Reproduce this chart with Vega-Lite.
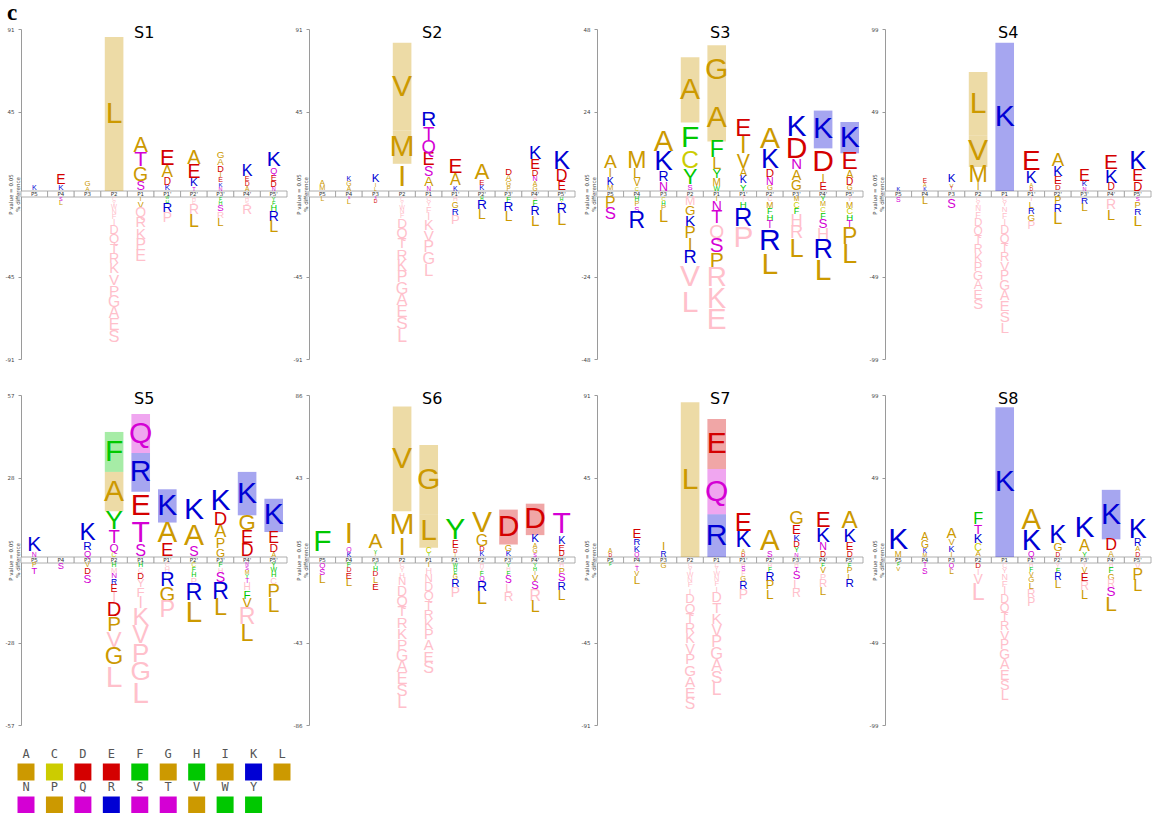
{
"$schema":"https://vega.github.io/schema/vega-lite/v6.json",
"padding":{"left":5,"top":2,"right":0,"bottom":0},
"title":{"text":"c","anchor":"start","font":"Liberation Serif","fontSize":23,"fontWeight":"bold","color":"#000","offset":0,"dx":2,"frame":"bounds"},
"config":{
 "view":{"stroke":null},
 "title":{"font":"DejaVu Sans","fontSize":16,"fontWeight":"normal","color":"#000","anchor":"middle","frame":"bounds","offset":-14,"dx":-2},
 "axisY":{"grid":false,"domainColor":"#9a9a9a","tickColor":"#9a9a9a","tickSize":3,"labelFontSize":5.5,"labelColor":"#444","labelFont":"DejaVu Sans","titleFont":"DejaVu Sans","titleFontSize":5.5,"titleFontWeight":"normal","titleColor":"#444","titleX":-8,"labelPadding":4,"labelExpr":"(datum.value<0?'-':'')+floor(abs(datum.value))"}
},
"datasets":{
"pos":[{"p":"P5"},{"p":"P4"},{"p":"P3"},{"p":"P2"},{"p":"P1"},{"p":"P1'"},{"p":"P2'"},{"p":"P3'"},{"p":"P4'"},{"p":"P5'"}],
"aa":[{"a":"A","r":1},{"a":"C","r":1},{"a":"D","r":1},{"a":"E","r":1},{"a":"F","r":1},{"a":"G","r":1},{"a":"H","r":1},{"a":"I","r":1},{"a":"K","r":1},{"a":"L","r":1},{"a":"N","r":2},{"a":"P","r":2},{"a":"Q","r":2},{"a":"R","r":2},{"a":"S","r":2},{"a":"T","r":2},{"a":"V","r":2},{"a":"W","r":2},{"a":"Y","r":2}],
"logo":[
{"s":"S1","p":"P5","a":"K","v":2.8},
{"s":"S1","p":"P4","a":"K","v":3.1},{"s":"S1","p":"P4","a":"E","v":5.5},
{"s":"S1","p":"P3","a":"A","v":2.4},{"s":"S1","p":"P3","a":"G","v":3.1},
{"s":"S1","p":"P2","a":"L","v":85},
{"s":"S1","p":"P1","a":"S","v":5},{"s":"S1","p":"P1","a":"G","v":7.7},{"s":"S1","p":"P1","a":"T","v":8.3},{"s":"S1","p":"P1","a":"A","v":8.6},
{"s":"S1","p":"P1'","a":"K","v":3.1},{"s":"S1","p":"P1'","a":"D","v":4},{"s":"S1","p":"P1'","a":"A","v":6.8},{"s":"S1","p":"P1'","a":"E","v":8.6},
{"s":"S1","p":"P2'","a":"T","v":2.2},{"s":"S1","p":"P2'","a":"K","v":4.6},{"s":"S1","p":"P2'","a":"E","v":7.7},{"s":"S1","p":"P2'","a":"A","v":7.9},
{"s":"S1","p":"P3'","a":"N","v":2.2},{"s":"S1","p":"P3'","a":"K","v":2.4},{"s":"S1","p":"P3'","a":"E","v":2.8},{"s":"S1","p":"P3'","a":"I","v":2.9},{"s":"S1","p":"P3'","a":"D","v":3.6},{"s":"S1","p":"P3'","a":"A","v":3.8},{"s":"S1","p":"P3'","a":"G","v":3.9},
{"s":"S1","p":"P4'","a":"A","v":2.6},{"s":"S1","p":"P4'","a":"D","v":2.7},{"s":"S1","p":"P4'","a":"E","v":2.8},{"s":"S1","p":"P4'","a":"K","v":6.4},
{"s":"S1","p":"P5'","a":"N","v":2.2},{"s":"S1","p":"P5'","a":"D","v":3.4},{"s":"S1","p":"P5'","a":"E","v":3.5},{"s":"S1","p":"P5'","a":"Q","v":3.6},{"s":"S1","p":"P5'","a":"K","v":8.3},
{"s":"S1","p":"P4","a":"S","v":-2},{"s":"S1","p":"P4","a":"L","v":-2.8},
{"s":"S1","p":"P2","a":"C","v":-2,"z":1},{"s":"S1","p":"P2","a":"Y","v":-2.2,"z":1},{"s":"S1","p":"P2","a":"W","v":-2.5,"z":1},{"s":"S1","p":"P2","a":"N","v":-2.7,"z":1},{"s":"S1","p":"P2","a":"F","v":-3,"z":1},{"s":"S1","p":"P2","a":"I","v":-3.3,"z":1},{"s":"S1","p":"P2","a":"D","v":-5,"z":1},{"s":"S1","p":"P2","a":"Q","v":-5.2,"z":1},{"s":"S1","p":"P2","a":"T","v":-5.4,"z":1},{"s":"S1","p":"P2","a":"R","v":-5.6,"z":1},{"s":"S1","p":"P2","a":"K","v":-5.8,"z":1},{"s":"S1","p":"P2","a":"V","v":-6,"z":1},{"s":"S1","p":"P2","a":"P","v":-6.1,"z":1},{"s":"S1","p":"P2","a":"G","v":-6.2,"z":1},{"s":"S1","p":"P2","a":"A","v":-6.3,"z":1},{"s":"S1","p":"P2","a":"E","v":-6.4,"z":1},{"s":"S1","p":"P2","a":"S","v":-6.5,"z":1},
{"s":"S1","p":"P1","a":"I","v":-2.4},{"s":"S1","p":"P1","a":"V","v":-3.5},{"s":"S1","p":"P1","a":"Q","v":-5.5,"z":1},{"s":"S1","p":"P1","a":"R","v":-5.8,"z":1},{"s":"S1","p":"P1","a":"K","v":-6,"z":1},{"s":"S1","p":"P1","a":"P","v":-6.2,"z":1},{"s":"S1","p":"P1","a":"E","v":-6.4,"z":1},
{"s":"S1","p":"P1'","a":"W","v":-1.5},{"s":"S1","p":"P1'","a":"H","v":-2},{"s":"S1","p":"P1'","a":"R","v":-5.3},{"s":"S1","p":"P1'","a":"P","v":-5.5,"z":1},
{"s":"S1","p":"P2'","a":"H","v":-2.2,"z":1},{"s":"S1","p":"P2'","a":"F","v":-2.4,"z":1},{"s":"S1","p":"P2'","a":"R","v":-5.5,"z":1},{"s":"S1","p":"P2'","a":"L","v":-7},
{"s":"S1","p":"P3'","a":"F","v":-2},{"s":"S1","p":"P3'","a":"H","v":-2.2},{"s":"S1","p":"P3'","a":"S","v":-3.8},{"s":"S1","p":"P3'","a":"R","v":-3.9,"z":1},{"s":"S1","p":"P3'","a":"L","v":-4.5},
{"s":"S1","p":"P4'","a":"H","v":-2.2,"z":1},{"s":"S1","p":"P4'","a":"S","v":-2.4,"z":1},{"s":"S1","p":"P4'","a":"R","v":-5.4,"z":1},
{"s":"S1","p":"P5'","a":"Y","v":-2.2},{"s":"S1","p":"P5'","a":"F","v":-2.3},{"s":"S1","p":"P5'","a":"H","v":-3.6},{"s":"S1","p":"P5'","a":"R","v":-5.5},{"s":"S1","p":"P5'","a":"L","v":-6.4},
{"s":"S2","p":"P5","a":"M","v":2.9},{"s":"S2","p":"P5","a":"A","v":3},
{"s":"S2","p":"P4","a":"A","v":2.6},{"s":"S2","p":"P4","a":"G","v":2.7},{"s":"S2","p":"P4","a":"K","v":2.8},
{"s":"S2","p":"P3","a":"L","v":2},{"s":"S2","p":"P3","a":"I","v":2.2},{"s":"S2","p":"P3","a":"K","v":4.6},
{"s":"S2","p":"P2","a":"I","v":15},{"s":"S2","p":"P2","a":"M","v":18.3},{"s":"S2","p":"P2","a":"V","v":48.4},
{"s":"S2","p":"P1","a":"N","v":2.5},{"s":"S2","p":"P1","a":"A","v":5.4},{"s":"S2","p":"P1","a":"S","v":5.5},{"s":"S2","p":"P1","a":"E","v":7.2},{"s":"S2","p":"P1","a":"Q","v":7.3},{"s":"S2","p":"P1","a":"T","v":7.4},{"s":"S2","p":"P1","a":"R","v":8.2},
{"s":"S2","p":"P1'","a":"K","v":2.7},{"s":"S2","p":"P1'","a":"A","v":6.4},{"s":"S2","p":"P1'","a":"E","v":8.2},
{"s":"S2","p":"P2'","a":"K","v":3},{"s":"S2","p":"P2'","a":"E","v":3.1},{"s":"S2","p":"P2'","a":"A","v":8.8},
{"s":"S2","p":"P3'","a":"P","v":2.5},{"s":"S2","p":"P3'","a":"G","v":2.6},{"s":"S2","p":"P3'","a":"A","v":3.6},{"s":"S2","p":"P3'","a":"D","v":3.7},
{"s":"S2","p":"P4'","a":"G","v":2.6},{"s":"S2","p":"P4'","a":"A","v":2.7},{"s":"S2","p":"P4'","a":"N","v":2.8},{"s":"S2","p":"P4'","a":"D","v":3.6},{"s":"S2","p":"P4'","a":"E","v":5.8},{"s":"S2","p":"P4'","a":"K","v":7.3},
{"s":"S2","p":"P5'","a":"E","v":5},{"s":"S2","p":"P5'","a":"D","v":6.4},{"s":"S2","p":"P5'","a":"K","v":10},
{"s":"S2","p":"P5","a":"L","v":-2.7},
{"s":"S2","p":"P4","a":"S","v":-1.5},{"s":"S2","p":"P4","a":"L","v":-3},
{"s":"S2","p":"P3","a":"S","v":-1.3},{"s":"S2","p":"P3","a":"D","v":-2},
{"s":"S2","p":"P2","a":"C","v":-2,"z":1},{"s":"S2","p":"P2","a":"Y","v":-2.2,"z":1},{"s":"S2","p":"P2","a":"W","v":-2.4,"z":1},{"s":"S2","p":"P2","a":"N","v":-2.6,"z":1},{"s":"S2","p":"P2","a":"F","v":-2.8,"z":1},{"s":"S2","p":"P2","a":"D","v":-5.4,"z":1},{"s":"S2","p":"P2","a":"Q","v":-5.6,"z":1},{"s":"S2","p":"P2","a":"T","v":-5.8,"z":1},{"s":"S2","p":"P2","a":"R","v":-6,"z":1},{"s":"S2","p":"P2","a":"K","v":-6.2,"z":1},{"s":"S2","p":"P2","a":"P","v":-6.3,"z":1},{"s":"S2","p":"P2","a":"G","v":-6.4,"z":1},{"s":"S2","p":"P2","a":"A","v":-6.5,"z":1},{"s":"S2","p":"P2","a":"E","v":-6.6,"z":1},{"s":"S2","p":"P2","a":"S","v":-6.8,"z":1},{"s":"S2","p":"P2","a":"L","v":-7,"z":1},
{"s":"S2","p":"P1","a":"C","v":-2.5,"z":1},{"s":"S2","p":"P1","a":"Y","v":-3,"z":1},{"s":"S2","p":"P1","a":"F","v":-3.5,"z":1},{"s":"S2","p":"P1","a":"I","v":-4,"z":1},{"s":"S2","p":"P1","a":"K","v":-5.7,"z":1},{"s":"S2","p":"P1","a":"V","v":-6,"z":1},{"s":"S2","p":"P1","a":"P","v":-6.2,"z":1},{"s":"S2","p":"P1","a":"G","v":-6.4,"z":1},{"s":"S2","p":"P1","a":"L","v":-6.6,"z":1},
{"s":"S2","p":"P1'","a":"H","v":-2.6,"z":1},{"s":"S2","p":"P1'","a":"G","v":-3.5},{"s":"S2","p":"P1'","a":"R","v":-3.8},{"s":"S2","p":"P1'","a":"P","v":-5.2,"z":1},
{"s":"S2","p":"P2'","a":"H","v":-1.8},{"s":"S2","p":"P2'","a":"R","v":-5.4},{"s":"S2","p":"P2'","a":"L","v":-5.5},
{"s":"S2","p":"P3'","a":"F","v":-3},{"s":"S2","p":"P3'","a":"R","v":-5.4},{"s":"S2","p":"P3'","a":"L","v":-5.5},
{"s":"S2","p":"P4'","a":"H","v":-1.8,"z":1},{"s":"S2","p":"P4'","a":"F","v":-3.3},{"s":"S2","p":"P4'","a":"R","v":-5},{"s":"S2","p":"P4'","a":"L","v":-6},
{"s":"S2","p":"P5'","a":"H","v":-2},{"s":"S2","p":"P5'","a":"I","v":-2.1},{"s":"S2","p":"P5'","a":"R","v":-5.5},{"s":"S2","p":"P5'","a":"L","v":-6.4},
{"s":"S3","p":"P5","a":"M","v":1.6},{"s":"S3","p":"P5","a":"K","v":2.2},{"s":"S3","p":"P5","a":"I","v":2.6},{"s":"S3","p":"P5","a":"A","v":4},
{"s":"S3","p":"P4","a":"C","v":1.2},{"s":"S3","p":"P4","a":"V","v":2.2},{"s":"S3","p":"P4","a":"L","v":2.9},{"s":"S3","p":"P4","a":"M","v":4.8},
{"s":"S3","p":"P3","a":"N","v":2.6},{"s":"S3","p":"P3","a":"R","v":2.9},{"s":"S3","p":"P3","a":"K","v":5.8},{"s":"S3","p":"P3","a":"A","v":6.1},
{"s":"S3","p":"P2","a":"S","v":1.6},{"s":"S3","p":"P2","a":"Y","v":4.5},{"s":"S3","p":"P2","a":"C","v":5.1},{"s":"S3","p":"P2","a":"F","v":8.7},{"s":"S3","p":"P2","a":"A","v":19},
{"s":"S3","p":"P1","a":"W","v":1.4},{"s":"S3","p":"P1","a":"M","v":2.1},{"s":"S3","p":"P1","a":"Y","v":2.7},{"s":"S3","p":"P1","a":"L","v":3.4},{"s":"S3","p":"P1","a":"F","v":4.8},{"s":"S3","p":"P1","a":"A","v":13.8},{"s":"S3","p":"P1","a":"G","v":14.2},
{"s":"S3","p":"P1'","a":"Y","v":2},{"s":"S3","p":"P1'","a":"K","v":2.2},{"s":"S3","p":"P1'","a":"A","v":2.3},{"s":"S3","p":"P1'","a":"V","v":4.1},{"s":"S3","p":"P1'","a":"I","v":4.9},{"s":"S3","p":"P1'","a":"E","v":5},
{"s":"S3","p":"P2'","a":"G","v":1.6},{"s":"S3","p":"P2'","a":"N","v":2.2},{"s":"S3","p":"P2'","a":"D","v":2.4},{"s":"S3","p":"P2'","a":"K","v":5.6},{"s":"S3","p":"P2'","a":"A","v":6.5},
{"s":"S3","p":"P3'","a":"G","v":2.9},{"s":"S3","p":"P3'","a":"A","v":3},{"s":"S3","p":"P3'","a":"N","v":3.1},{"s":"S3","p":"P3'","a":"D","v":6.3},{"s":"S3","p":"P3'","a":"K","v":6.4},
{"s":"S3","p":"P4'","a":"E","v":2.3},{"s":"S3","p":"P4'","a":"I","v":2.4},{"s":"S3","p":"P4'","a":"D","v":7.7},{"s":"S3","p":"P4'","a":"K","v":11},
{"s":"S3","p":"P5'","a":"G","v":1.6},{"s":"S3","p":"P5'","a":"D","v":2.1},{"s":"S3","p":"P5'","a":"A","v":2.2},{"s":"S3","p":"P5'","a":"E","v":5.1},{"s":"S3","p":"P5'","a":"K","v":9.1},
{"s":"S3","p":"P5","a":"P","v":-3.3},{"s":"S3","p":"P5","a":"S","v":-3.5},
{"s":"S3","p":"P4","a":"H","v":-1.4},{"s":"S3","p":"P4","a":"P","v":-1.5},{"s":"S3","p":"P4","a":"S","v":-1.6},{"s":"S3","p":"P4","a":"R","v":-4.8},
{"s":"S3","p":"P3","a":"C","v":-1.2},{"s":"S3","p":"P3","a":"H","v":-1.3},{"s":"S3","p":"P3","a":"P","v":-1.6},{"s":"S3","p":"P3","a":"L","v":-3.4},
{"s":"S3","p":"P2","a":"M","v":-2.6,"z":1},{"s":"S3","p":"P2","a":"G","v":-2.8},{"s":"S3","p":"P2","a":"K","v":-3.2},{"s":"S3","p":"P2","a":"P","v":-3.5},{"s":"S3","p":"P2","a":"I","v":-3.6},{"s":"S3","p":"P2","a":"R","v":-3.8},{"s":"S3","p":"P2","a":"V","v":-7.4,"z":1},{"s":"S3","p":"P2","a":"L","v":-7.6,"z":1},
{"s":"S3","p":"P1","a":"I","v":-1.4},{"s":"S3","p":"P1","a":"N","v":-2.9},{"s":"S3","p":"P1","a":"T","v":-3.8},{"s":"S3","p":"P1","a":"Q","v":-4,"z":1},{"s":"S3","p":"P1","a":"S","v":-4.3},{"s":"S3","p":"P1","a":"P","v":-4.4},{"s":"S3","p":"P1","a":"R","v":-5.8,"z":1},{"s":"S3","p":"P1","a":"K","v":-6,"z":1},{"s":"S3","p":"P1","a":"E","v":-6.2,"z":1},
{"s":"S3","p":"P1'","a":"T","v":-1.4,"z":1},{"s":"S3","p":"P1'","a":"H","v":-2},{"s":"S3","p":"P1'","a":"R","v":-5.3},{"s":"S3","p":"P1'","a":"P","v":-6.2,"z":1},
{"s":"S3","p":"P2'","a":"C","v":-1.4,"z":1},{"s":"S3","p":"P2'","a":"M","v":-1.8},{"s":"S3","p":"P2'","a":"F","v":-1.9},{"s":"S3","p":"P2'","a":"H","v":-2},{"s":"S3","p":"P2'","a":"T","v":-2.1},{"s":"S3","p":"P2'","a":"R","v":-7},{"s":"S3","p":"P2'","a":"L","v":-7.2},
{"s":"S3","p":"P3'","a":"M","v":-1.4},{"s":"S3","p":"P3'","a":"C","v":-1.8},{"s":"S3","p":"P3'","a":"F","v":-1.9},{"s":"S3","p":"P3'","a":"H","v":-3.5,"z":1},{"s":"S3","p":"P3'","a":"R","v":-3.8,"z":1},{"s":"S3","p":"P3'","a":"L","v":-5.3},
{"s":"S3","p":"P4'","a":"Y","v":-1.4},{"s":"S3","p":"P4'","a":"M","v":-1.5},{"s":"S3","p":"P4'","a":"C","v":-1.6},{"s":"S3","p":"P4'","a":"F","v":-1.9},{"s":"S3","p":"P4'","a":"S","v":-2.8},{"s":"S3","p":"P4'","a":"H","v":-3.5,"z":1},{"s":"S3","p":"P4'","a":"R","v":-5.6},{"s":"S3","p":"P4'","a":"L","v":-6.6},
{"s":"S3","p":"P5'","a":"Y","v":-1.4,"z":1},{"s":"S3","p":"P5'","a":"M","v":-1.8},{"s":"S3","p":"P5'","a":"C","v":-1.9},{"s":"S3","p":"P5'","a":"H","v":-2},{"s":"S3","p":"P5'","a":"T","v":-2.1},{"s":"S3","p":"P5'","a":"P","v":-4.8},{"s":"S3","p":"P5'","a":"L","v":-5.6},
{"s":"S4","p":"P5","a":"K","v":2.4},
{"s":"S4","p":"P4","a":"K","v":2.2},{"s":"S4","p":"P4","a":"A","v":2.3},{"s":"S4","p":"P4","a":"E","v":2.8},
{"s":"S4","p":"P3","a":"T","v":2},{"s":"S4","p":"P3","a":"V","v":2.6},{"s":"S4","p":"P3","a":"K","v":5},
{"s":"S4","p":"P2","a":"I","v":4.4},{"s":"S4","p":"P2","a":"M","v":10},{"s":"S4","p":"P2","a":"V","v":19},{"s":"S4","p":"P2","a":"L","v":38},
{"s":"S4","p":"P1","a":"K","v":89},
{"s":"S4","p":"P1'","a":"D","v":2.2},{"s":"S4","p":"P1'","a":"A","v":2.4},{"s":"S4","p":"P1'","a":"K","v":7},{"s":"S4","p":"P1'","a":"E","v":12},
{"s":"S4","p":"P2'","a":"D","v":3.4},{"s":"S4","p":"P2'","a":"E","v":5},{"s":"S4","p":"P2'","a":"K","v":6},{"s":"S4","p":"P2'","a":"A","v":8},
{"s":"S4","p":"P3'","a":"N","v":2.4},{"s":"S4","p":"P3'","a":"K","v":3.4},{"s":"S4","p":"P3'","a":"E","v":7},
{"s":"S4","p":"P4'","a":"D","v":4.4},{"s":"S4","p":"P4'","a":"K","v":8},{"s":"S4","p":"P4'","a":"E","v":9},
{"s":"S4","p":"P5'","a":"D","v":5.4},{"s":"S4","p":"P5'","a":"E","v":7},{"s":"S4","p":"P5'","a":"K","v":11},
{"s":"S4","p":"P5","a":"S","v":-3},
{"s":"S4","p":"P4","a":"L","v":-4.6},
{"s":"S4","p":"P3","a":"D","v":-1.2,"z":1},{"s":"S4","p":"P3","a":"S","v":-5.5},
{"s":"S4","p":"P2","a":"C","v":-2.5,"z":1},{"s":"S4","p":"P2","a":"Y","v":-3,"z":1},{"s":"S4","p":"P2","a":"N","v":-3.5,"z":1},{"s":"S4","p":"P2","a":"F","v":-4,"z":1},{"s":"S4","p":"P2","a":"D","v":-5,"z":1},{"s":"S4","p":"P2","a":"Q","v":-5.1,"z":1},{"s":"S4","p":"P2","a":"T","v":-5.2,"z":1},{"s":"S4","p":"P2","a":"R","v":-5.3,"z":1},{"s":"S4","p":"P2","a":"K","v":-5.4,"z":1},{"s":"S4","p":"P2","a":"P","v":-5.5,"z":1},{"s":"S4","p":"P2","a":"G","v":-5.6,"z":1},{"s":"S4","p":"P2","a":"A","v":-5.7,"z":1},{"s":"S4","p":"P2","a":"E","v":-5.8,"z":1},{"s":"S4","p":"P2","a":"S","v":-6.4,"z":1},
{"s":"S4","p":"P1","a":"C","v":-2.8,"z":1},{"s":"S4","p":"P1","a":"Y","v":-3.1,"z":1},{"s":"S4","p":"P1","a":"N","v":-3.4,"z":1},{"s":"S4","p":"P1","a":"F","v":-3.7,"z":1},{"s":"S4","p":"P1","a":"I","v":-4,"z":1},{"s":"S4","p":"P1","a":"D","v":-5.3,"z":1},{"s":"S4","p":"P1","a":"Q","v":-5.4,"z":1},{"s":"S4","p":"P1","a":"T","v":-5.5,"z":1},{"s":"S4","p":"P1","a":"R","v":-5.6,"z":1},{"s":"S4","p":"P1","a":"V","v":-5.8,"z":1},{"s":"S4","p":"P1","a":"P","v":-5.9,"z":1},{"s":"S4","p":"P1","a":"G","v":-6,"z":1},{"s":"S4","p":"P1","a":"A","v":-6.1,"z":1},{"s":"S4","p":"P1","a":"E","v":-6.3,"z":1},{"s":"S4","p":"P1","a":"S","v":-6.5,"z":1},{"s":"S4","p":"P1","a":"L","v":-6.6,"z":1},
{"s":"S4","p":"P1'","a":"I","v":-2.8,"z":1},{"s":"S4","p":"P1'","a":"L","v":-3.8},{"s":"S4","p":"P1'","a":"R","v":-4},{"s":"S4","p":"P1'","a":"G","v":-4.2},{"s":"S4","p":"P1'","a":"P","v":-5,"z":1},
{"s":"S4","p":"P2'","a":"P","v":-4.6},{"s":"S4","p":"P2'","a":"R","v":-4.8},{"s":"S4","p":"P2'","a":"L","v":-7},
{"s":"S4","p":"P3'","a":"R","v":-4.2},{"s":"S4","p":"P3'","a":"L","v":-5},
{"s":"S4","p":"P4'","a":"Y","v":-2,"z":1},{"s":"S4","p":"P4'","a":"R","v":-6,"z":1},{"s":"S4","p":"P4'","a":"L","v":-6.2},
{"s":"S4","p":"P5'","a":"S","v":-2.6},{"s":"S4","p":"P5'","a":"P","v":-4},{"s":"S4","p":"P5'","a":"R","v":-4.2},{"s":"S4","p":"P5'","a":"L","v":-6.6},
{"s":"S5","p":"P5","a":"N","v":1.7},{"s":"S5","p":"P5","a":"K","v":5.2},
{"s":"S5","p":"P3","a":"Q","v":2.3},{"s":"S5","p":"P3","a":"R","v":2.9},{"s":"S5","p":"P3","a":"K","v":6},
{"s":"S5","p":"P2","a":"C","v":1.7},{"s":"S5","p":"P2","a":"Q","v":2.9},{"s":"S5","p":"P2","a":"T","v":4.6},{"s":"S5","p":"P2","a":"Y","v":6.6},{"s":"S5","p":"P2","a":"A","v":13.6},{"s":"S5","p":"P2","a":"F","v":13.8},
{"s":"S5","p":"P1","a":"S","v":4},{"s":"S5","p":"P1","a":"T","v":8.7},{"s":"S5","p":"P1","a":"E","v":9.8},{"s":"S5","p":"P1","a":"R","v":13.4},{"s":"S5","p":"P1","a":"Q","v":13.5},
{"s":"S5","p":"P1'","a":"E","v":4.6},{"s":"S5","p":"P1'","a":"A","v":7.3},{"s":"S5","p":"P1'","a":"K","v":11.5},
{"s":"S5","p":"P2'","a":"S","v":3.5},{"s":"S5","p":"P2'","a":"A","v":7.7},{"s":"S5","p":"P2'","a":"K","v":10.4},
{"s":"S5","p":"P3'","a":"G","v":2.9},{"s":"S5","p":"P3'","a":"P","v":3.5},{"s":"S5","p":"P3'","a":"A","v":4.4},{"s":"S5","p":"P3'","a":"D","v":4.6},{"s":"S5","p":"P3'","a":"K","v":8.1},
{"s":"S5","p":"P4'","a":"D","v":4.4},{"s":"S5","p":"P4'","a":"E","v":4.5},{"s":"S5","p":"P4'","a":"G","v":5.5},{"s":"S5","p":"P4'","a":"K","v":15},
{"s":"S5","p":"P5'","a":"A","v":1.7},{"s":"S5","p":"P5'","a":"D","v":2.9},{"s":"S5","p":"P5'","a":"E","v":4},{"s":"S5","p":"P5'","a":"K","v":11.5},
{"s":"S5","p":"P5","a":"P","v":-1.7},{"s":"S5","p":"P5","a":"T","v":-2.3},
{"s":"S5","p":"P4","a":"S","v":-2.3},
{"s":"S5","p":"P3","a":"V","v":-1.7},{"s":"S5","p":"P3","a":"D","v":-2.3},{"s":"S5","p":"P3","a":"S","v":-2.9},
{"s":"S5","p":"P2","a":"H","v":-1.7},{"s":"S5","p":"P2","a":"M","v":-1.9,"z":1},{"s":"S5","p":"P2","a":"N","v":-2},{"s":"S5","p":"P2","a":"R","v":-2.1},{"s":"S5","p":"P2","a":"E","v":-2.6},{"s":"S5","p":"P2","a":"I","v":-3.4,"z":1},{"s":"S5","p":"P2","a":"D","v":-5},{"s":"S5","p":"P2","a":"P","v":-5.1},{"s":"S5","p":"P2","a":"V","v":-5.6,"z":1},{"s":"S5","p":"P2","a":"G","v":-5.9},{"s":"S5","p":"P2","a":"L","v":-9,"z":1},
{"s":"S5","p":"P1","a":"H","v":-1.7},{"s":"S5","p":"P1","a":"C","v":-1.8,"z":1},{"s":"S5","p":"P1","a":"D","v":-2.3},{"s":"S5","p":"P1","a":"Y","v":-2.8,"z":1},{"s":"S5","p":"P1","a":"F","v":-3.3,"z":1},{"s":"S5","p":"P1","a":"I","v":-3.9,"z":1},{"s":"S5","p":"P1","a":"K","v":-6.1,"z":1},{"s":"S5","p":"P1","a":"V","v":-6.2,"z":1},{"s":"S5","p":"P1","a":"P","v":-6.4,"z":1},{"s":"S5","p":"P1","a":"G","v":-6.5,"z":1},{"s":"S5","p":"P1","a":"L","v":-8.4,"z":1},
{"s":"S5","p":"P1'","a":"C","v":-1.6,"z":1},{"s":"S5","p":"P1'","a":"H","v":-1.9,"z":1},{"s":"S5","p":"P1'","a":"R","v":-4.9},{"s":"S5","p":"P1'","a":"G","v":-5},{"s":"S5","p":"P1'","a":"P","v":-5.8,"z":1},
{"s":"S5","p":"P2'","a":"C","v":-1.6},{"s":"S5","p":"P2'","a":"F","v":-1.7},{"s":"S5","p":"P2'","a":"H","v":-1.8},{"s":"S5","p":"P2'","a":"P","v":-2.3,"z":1},{"s":"S5","p":"P2'","a":"R","v":-5.8},{"s":"S5","p":"P2'","a":"L","v":-8},
{"s":"S5","p":"P3'","a":"F","v":-1.7},{"s":"S5","p":"P3'","a":"H","v":-1.8,"z":1},{"s":"S5","p":"P3'","a":"S","v":-3.5},{"s":"S5","p":"P3'","a":"R","v":-5.7},{"s":"S5","p":"P3'","a":"L","v":-5.8},
{"s":"S5","p":"P4'","a":"N","v":-1.2},{"s":"S5","p":"P4'","a":"S","v":-1.3},{"s":"S5","p":"P4'","a":"M","v":-1.4},{"s":"S5","p":"P4'","a":"Y","v":-1.5},{"s":"S5","p":"P4'","a":"T","v":-1.6},{"s":"S5","p":"P4'","a":"H","v":-2.5,"z":1},{"s":"S5","p":"P4'","a":"F","v":-2.9},{"s":"S5","p":"P4'","a":"V","v":-3.4},{"s":"S5","p":"P4'","a":"R","v":-5.7,"z":1},{"s":"S5","p":"P4'","a":"L","v":-5.8},
{"s":"S5","p":"P5'","a":"Y","v":-1.6},{"s":"S5","p":"P5'","a":"W","v":-1.7},{"s":"S5","p":"P5'","a":"H","v":-1.9},{"s":"S5","p":"P5'","a":"C","v":-2.3,"z":1},{"s":"S5","p":"P5'","a":"P","v":-4.6},{"s":"S5","p":"P5'","a":"L","v":-5.2},
{"s":"S6","p":"P5","a":"F","v":15.2},
{"s":"S6","p":"P4","a":"K","v":2.5},{"s":"S6","p":"P4","a":"Q","v":2.6},{"s":"S6","p":"P4","a":"I","v":14.2},
{"s":"S6","p":"P3","a":"I","v":1.8},{"s":"S6","p":"P3","a":"Y","v":2},{"s":"S6","p":"P3","a":"A","v":7.8},
{"s":"S6","p":"P2","a":"I","v":9.2},{"s":"S6","p":"P2","a":"M","v":14.7},{"s":"S6","p":"P2","a":"V","v":54.5},
{"s":"S6","p":"P1","a":"Y","v":1.7},{"s":"S6","p":"P1","a":"C","v":3.1},{"s":"S6","p":"P1","a":"L","v":17.3},{"s":"S6","p":"P1","a":"G","v":36.3},
{"s":"S6","p":"P1'","a":"I","v":2},{"s":"S6","p":"P1'","a":"D","v":2.2},{"s":"S6","p":"P1'","a":"E","v":3.8},{"s":"S6","p":"P1'","a":"Y","v":12.1},
{"s":"S6","p":"P2'","a":"K","v":2.7},{"s":"S6","p":"P2'","a":"D","v":2.8},{"s":"S6","p":"P2'","a":"G","v":6},{"s":"S6","p":"P2'","a":"V","v":12.1},
{"s":"S6","p":"P3'","a":"K","v":3},{"s":"S6","p":"P3'","a":"G","v":3.5},{"s":"S6","p":"P3'","a":"D","v":18.2},
{"s":"S6","p":"P4'","a":"S","v":2},{"s":"S6","p":"P4'","a":"G","v":2.5},{"s":"S6","p":"P4'","a":"A","v":2.6},{"s":"S6","p":"P4'","a":"K","v":4.3},{"s":"S6","p":"P4'","a":"D","v":16.4},
{"s":"S6","p":"P5'","a":"D","v":3.1},{"s":"S6","p":"P5'","a":"E","v":3.5},{"s":"S6","p":"P5'","a":"K","v":4},{"s":"S6","p":"P5'","a":"T","v":13},
{"s":"S6","p":"P5","a":"Q","v":-3},{"s":"S6","p":"P5","a":"S","v":-3.3},{"s":"S6","p":"P5","a":"L","v":-4.4},
{"s":"S6","p":"P4","a":"F","v":-2.5},{"s":"S6","p":"P4","a":"D","v":-2.6},{"s":"S6","p":"P4","a":"E","v":-3.4},{"s":"S6","p":"P4","a":"L","v":-4.3},
{"s":"S6","p":"P3","a":"Y","v":-1.7},{"s":"S6","p":"P3","a":"H","v":-2.6},{"s":"S6","p":"P3","a":"D","v":-3},{"s":"S6","p":"P3","a":"L","v":-3.4},{"s":"S6","p":"P3","a":"E","v":-3.6},
{"s":"S6","p":"P2","a":"C","v":-2.4,"z":1},{"s":"S6","p":"P2","a":"Y","v":-2.7,"z":1},{"s":"S6","p":"P2","a":"H","v":-2.9,"z":1},{"s":"S6","p":"P2","a":"N","v":-4.3,"z":1},{"s":"S6","p":"P2","a":"D","v":-5.2,"z":1},{"s":"S6","p":"P2","a":"Q","v":-5.4,"z":1},{"s":"S6","p":"P2","a":"T","v":-5.5,"z":1},{"s":"S6","p":"P2","a":"R","v":-5.6,"z":1},{"s":"S6","p":"P2","a":"K","v":-5.7,"z":1},{"s":"S6","p":"P2","a":"P","v":-5.8,"z":1},{"s":"S6","p":"P2","a":"G","v":-5.9,"z":1},{"s":"S6","p":"P2","a":"A","v":-6,"z":1},{"s":"S6","p":"P2","a":"E","v":-6.1,"z":1},{"s":"S6","p":"P2","a":"S","v":-6.2,"z":1},{"s":"S6","p":"P2","a":"L","v":-6.6,"z":1},
{"s":"S6","p":"P1","a":"I","v":-2.6},{"s":"S6","p":"P1","a":"H","v":-3.4,"z":1},{"s":"S6","p":"P1","a":"N","v":-4.3,"z":1},{"s":"S6","p":"P1","a":"D","v":-4.6,"z":1},{"s":"S6","p":"P1","a":"Q","v":-4.8,"z":1},{"s":"S6","p":"P1","a":"T","v":-5,"z":1},{"s":"S6","p":"P1","a":"R","v":-5.1,"z":1},{"s":"S6","p":"P1","a":"K","v":-5.2,"z":1},{"s":"S6","p":"P1","a":"P","v":-5.4,"z":1},{"s":"S6","p":"P1","a":"A","v":-5.5,"z":1},{"s":"S6","p":"P1","a":"E","v":-5.7,"z":1},{"s":"S6","p":"P1","a":"S","v":-6,"z":1},
{"s":"S6","p":"P1'","a":"W","v":-2},{"s":"S6","p":"P1'","a":"H","v":-2.1},{"s":"S6","p":"P1'","a":"F","v":-2.2},{"s":"S6","p":"P1'","a":"G","v":-2.5},{"s":"S6","p":"P1'","a":"R","v":-4.3},{"s":"S6","p":"P1'","a":"P","v":-5.2,"z":1},
{"s":"S6","p":"P2'","a":"H","v":-2.3,"z":1},{"s":"S6","p":"P2'","a":"Y","v":-2.4,"z":1},{"s":"S6","p":"P2'","a":"F","v":-2.5},{"s":"S6","p":"P2'","a":"Q","v":-2.6},{"s":"S6","p":"P2'","a":"R","v":-5.2},{"s":"S6","p":"P2'","a":"L","v":-6.9},
{"s":"S6","p":"P3'","a":"Y","v":-2.2},{"s":"S6","p":"P3'","a":"H","v":-2.3,"z":1},{"s":"S6","p":"P3'","a":"F","v":-2.4},{"s":"S6","p":"P3'","a":"S","v":-3.8},{"s":"S6","p":"P3'","a":"L","v":-4.4,"z":1},{"s":"S6","p":"P3'","a":"R","v":-5,"z":1},
{"s":"S6","p":"P4'","a":"Y","v":-2},{"s":"S6","p":"P4'","a":"H","v":-2.1},{"s":"S6","p":"P4'","a":"I","v":-2.2},{"s":"S6","p":"P4'","a":"V","v":-3.5},{"s":"S6","p":"P4'","a":"S","v":-4.2},{"s":"S6","p":"P4'","a":"R","v":-5.9,"z":1},{"s":"S6","p":"P4'","a":"L","v":-6},
{"s":"S6","p":"P5'","a":"H","v":-2.5,"z":1},{"s":"S6","p":"P5'","a":"P","v":-3.4},{"s":"S6","p":"P5'","a":"S","v":-4.2},{"s":"S6","p":"P5'","a":"R","v":-4.3},{"s":"S6","p":"P5'","a":"L","v":-5.2},
{"s":"S7","p":"P5","a":"D","v":2},{"s":"S7","p":"P5","a":"A","v":2.6},
{"s":"S7","p":"P4","a":"Q","v":2.6},{"s":"S7","p":"P4","a":"K","v":3.6},{"s":"S7","p":"P4","a":"R","v":3.7},{"s":"S7","p":"P4","a":"E","v":5.2},
{"s":"S7","p":"P3","a":"R","v":3.3},{"s":"S7","p":"P3","a":"I","v":4.6},
{"s":"S7","p":"P2","a":"L","v":85.3},
{"s":"S7","p":"P1","a":"R","v":23.6},{"s":"S7","p":"P1","a":"Q","v":24.9},{"s":"S7","p":"P1","a":"E","v":27.6},
{"s":"S7","p":"P1'","a":"D","v":2.2},{"s":"S7","p":"P1'","a":"A","v":2.4},{"s":"S7","p":"P1'","a":"K","v":9.2},{"s":"S7","p":"P1'","a":"E","v":10.1},
{"s":"S7","p":"P2'","a":"S","v":3.3},{"s":"S7","p":"P2'","a":"A","v":11.6},
{"s":"S7","p":"P3'","a":"N","v":2.4},{"s":"S7","p":"P3'","a":"Y","v":2.8},{"s":"S7","p":"P3'","a":"D","v":3.6},{"s":"S7","p":"P3'","a":"K","v":3.7},{"s":"S7","p":"P3'","a":"E","v":5.2},{"s":"S7","p":"P3'","a":"G","v":7.4},
{"s":"S7","p":"P4'","a":"D","v":3.3},{"s":"S7","p":"P4'","a":"N","v":4.2},{"s":"S7","p":"P4'","a":"K","v":8.3},{"s":"S7","p":"P4'","a":"E","v":8.8},
{"s":"S7","p":"P5'","a":"D","v":3.3},{"s":"S7","p":"P5'","a":"E","v":4.6},{"s":"S7","p":"P5'","a":"K","v":7.4},{"s":"S7","p":"P5'","a":"A","v":9.6},
{"s":"S7","p":"P5","a":"F","v":-1.8},
{"s":"S7","p":"P4","a":"F","v":-2,"z":1},{"s":"S7","p":"P4","a":"T","v":-2.6},{"s":"S7","p":"P4","a":"V","v":-3},{"s":"S7","p":"P4","a":"L","v":-4.6},
{"s":"S7","p":"P3","a":"G","v":-3.1},
{"s":"S7","p":"P2","a":"C","v":-2.4,"z":1},{"s":"S7","p":"P2","a":"Y","v":-2.6,"z":1},{"s":"S7","p":"P2","a":"W","v":-2.8,"z":1},{"s":"S7","p":"P2","a":"N","v":-3,"z":1},{"s":"S7","p":"P2","a":"F","v":-3.2,"z":1},{"s":"S7","p":"P2","a":"I","v":-3.5,"z":1},{"s":"S7","p":"P2","a":"D","v":-5.2,"z":1},{"s":"S7","p":"P2","a":"Q","v":-5.4,"z":1},{"s":"S7","p":"P2","a":"T","v":-5.5,"z":1},{"s":"S7","p":"P2","a":"R","v":-5.6,"z":1},{"s":"S7","p":"P2","a":"K","v":-5.7,"z":1},{"s":"S7","p":"P2","a":"V","v":-5.8,"z":1},{"s":"S7","p":"P2","a":"P","v":-5.9,"z":1},{"s":"S7","p":"P2","a":"G","v":-6,"z":1},{"s":"S7","p":"P2","a":"A","v":-6.1,"z":1},{"s":"S7","p":"P2","a":"E","v":-6.15,"z":1},{"s":"S7","p":"P2","a":"S","v":-6.2,"z":1},
{"s":"S7","p":"P1","a":"C","v":-2.2,"z":1},{"s":"S7","p":"P1","a":"Y","v":-2.5,"z":1},{"s":"S7","p":"P1","a":"W","v":-2.7,"z":1},{"s":"S7","p":"P1","a":"N","v":-2.9,"z":1},{"s":"S7","p":"P1","a":"F","v":-3,"z":1},{"s":"S7","p":"P1","a":"I","v":-3.3,"z":1},{"s":"S7","p":"P1","a":"D","v":-5.6,"z":1},{"s":"S7","p":"P1","a":"T","v":-5.9,"z":1},{"s":"S7","p":"P1","a":"K","v":-6.1,"z":1},{"s":"S7","p":"P1","a":"V","v":-6.3,"z":1},{"s":"S7","p":"P1","a":"P","v":-6.4,"z":1},{"s":"S7","p":"P1","a":"G","v":-6.5,"z":1},{"s":"S7","p":"P1","a":"A","v":-6.6,"z":1},{"s":"S7","p":"P1","a":"S","v":-6.7,"z":1},{"s":"S7","p":"P1","a":"L","v":-6.9,"z":1},
{"s":"S7","p":"P1'","a":"H","v":-2.3,"z":1},{"s":"S7","p":"P1'","a":"S","v":-2.5},{"s":"S7","p":"P1'","a":"F","v":-2.7,"z":1},{"s":"S7","p":"P1'","a":"G","v":-3},{"s":"S7","p":"P1'","a":"R","v":-4.5},{"s":"S7","p":"P1'","a":"P","v":-5.5,"z":1},
{"s":"S7","p":"P2'","a":"H","v":-2.4,"z":1},{"s":"S7","p":"P2'","a":"F","v":-2.6},{"s":"S7","p":"P2'","a":"R","v":-4.9},{"s":"S7","p":"P2'","a":"P","v":-5},{"s":"S7","p":"P2'","a":"L","v":-5.4},
{"s":"S7","p":"P3'","a":"H","v":-2.5,"z":1},{"s":"S7","p":"P3'","a":"T","v":-2.6},{"s":"S7","p":"P3'","a":"S","v":-4.6},{"s":"S7","p":"P3'","a":"L","v":-4.7,"z":1},{"s":"S7","p":"P3'","a":"R","v":-4.8,"z":1},
{"s":"S7","p":"P4'","a":"F","v":-2.3},{"s":"S7","p":"P4'","a":"V","v":-3.4},{"s":"S7","p":"P4'","a":"P","v":-3.6,"z":1},{"s":"S7","p":"P4'","a":"R","v":-4.5,"z":1},{"s":"S7","p":"P4'","a":"L","v":-4.6},
{"s":"S7","p":"P5'","a":"F","v":-2.4},{"s":"S7","p":"P5'","a":"P","v":-3.4},{"s":"S7","p":"P5'","a":"L","v":-3.6},{"s":"S7","p":"P5'","a":"R","v":-4.6},
{"s":"S8","p":"P5","a":"M","v":3.6},{"s":"S8","p":"P5","a":"K","v":13},
{"s":"S8","p":"P4","a":"M","v":2.4},{"s":"S8","p":"P4","a":"K","v":2.8},{"s":"S8","p":"P4","a":"G","v":4.4},{"s":"S8","p":"P4","a":"A","v":4.6},
{"s":"S8","p":"P3","a":"I","v":3},{"s":"S8","p":"P3","a":"K","v":3.9},{"s":"S8","p":"P3","a":"V","v":4},{"s":"S8","p":"P3","a":"A","v":6.4},
{"s":"S8","p":"P2","a":"A","v":3.4},{"s":"S8","p":"P2","a":"C","v":4.5},{"s":"S8","p":"P2","a":"K","v":5.6},{"s":"S8","p":"P2","a":"T","v":5.8},{"s":"S8","p":"P2","a":"F","v":7},
{"s":"S8","p":"P1","a":"K","v":89.8},
{"s":"S8","p":"P1'","a":"Q","v":3.6},{"s":"S8","p":"P1'","a":"K","v":12.4},{"s":"S8","p":"P1'","a":"A","v":12.6},
{"s":"S8","p":"P2'","a":"D","v":2.8},{"s":"S8","p":"P2'","a":"G","v":5},{"s":"S8","p":"P2'","a":"K","v":11},
{"s":"S8","p":"P3'","a":"Y","v":3},{"s":"S8","p":"P3'","a":"A","v":7},{"s":"S8","p":"P3'","a":"K","v":15},
{"s":"S8","p":"P4'","a":"A","v":3.6},{"s":"S8","p":"P4'","a":"D","v":7},{"s":"S8","p":"P4'","a":"K","v":29.7},
{"s":"S8","p":"P5'","a":"D","v":3},{"s":"S8","p":"P5'","a":"A","v":3.2},{"s":"S8","p":"P5'","a":"R","v":4.4},{"s":"S8","p":"P5'","a":"K","v":11.6},
{"s":"S8","p":"P5","a":"F","v":-2},{"s":"S8","p":"P5","a":"V","v":-2.6},
{"s":"S8","p":"P4","a":"T","v":-2.8},{"s":"S8","p":"P4","a":"S","v":-3.6},
{"s":"S8","p":"P3","a":"Q","v":-3},{"s":"S8","p":"P3","a":"L","v":-3.6},
{"s":"S8","p":"P2","a":"D","v":-3.4},{"s":"S8","p":"P2","a":"I","v":-3.8,"z":1},{"s":"S8","p":"P2","a":"V","v":-6,"z":1},{"s":"S8","p":"P2","a":"L","v":-10,"z":1},
{"s":"S8","p":"P1","a":"C","v":-3,"z":1},{"s":"S8","p":"P1","a":"Y","v":-3.4,"z":1},{"s":"S8","p":"P1","a":"N","v":-3.8,"z":1},{"s":"S8","p":"P1","a":"F","v":-4.2,"z":1},{"s":"S8","p":"P1","a":"I","v":-4.6,"z":1},{"s":"S8","p":"P1","a":"D","v":-5.2,"z":1},{"s":"S8","p":"P1","a":"Q","v":-5.4,"z":1},{"s":"S8","p":"P1","a":"T","v":-5.5,"z":1},{"s":"S8","p":"P1","a":"R","v":-5.6,"z":1},{"s":"S8","p":"P1","a":"V","v":-5.8,"z":1},{"s":"S8","p":"P1","a":"P","v":-5.9,"z":1},{"s":"S8","p":"P1","a":"G","v":-6,"z":1},{"s":"S8","p":"P1","a":"A","v":-6.1,"z":1},{"s":"S8","p":"P1","a":"E","v":-6.15,"z":1},{"s":"S8","p":"P1","a":"S","v":-6.2,"z":1},{"s":"S8","p":"P1","a":"L","v":-6.25,"z":1},
{"s":"S8","p":"P1'","a":"H","v":-2.6,"z":1},{"s":"S8","p":"P1'","a":"F","v":-2.8},{"s":"S8","p":"P1'","a":"V","v":-3},{"s":"S8","p":"P1'","a":"G","v":-3.4},{"s":"S8","p":"P1'","a":"L","v":-4},{"s":"S8","p":"P1'","a":"R","v":-5,"z":1},{"s":"S8","p":"P1'","a":"P","v":-5.2,"z":1},
{"s":"S8","p":"P2'","a":"Y","v":-3,"z":1},{"s":"S8","p":"P2'","a":"F","v":-3.2},{"s":"S8","p":"P2'","a":"R","v":-4.4},{"s":"S8","p":"P2'","a":"L","v":-5},
{"s":"S8","p":"P3'","a":"Y","v":-2.6,"z":1},{"s":"S8","p":"P3'","a":"V","v":-3.6},{"s":"S8","p":"P3'","a":"E","v":-5},{"s":"S8","p":"P3'","a":"R","v":-5.2,"z":1},{"s":"S8","p":"P3'","a":"L","v":-5.4},
{"s":"S8","p":"P4'","a":"H","v":-2.6,"z":1},{"s":"S8","p":"P4'","a":"F","v":-3.6},{"s":"S8","p":"P4'","a":"G","v":-3.8},{"s":"S8","p":"P4'","a":"R","v":-4.6,"z":1},{"s":"S8","p":"P4'","a":"S","v":-5.8},{"s":"S8","p":"P4'","a":"L","v":-9},
{"s":"S8","p":"P5'","a":"V","v":-3.6,"z":1},{"s":"S8","p":"P5'","a":"P","v":-6.8},{"s":"S8","p":"P5'","a":"L","v":-7}
]
},
"resolve":{"scale":{"size":"independent","y":"independent","x":"independent"}},
"spacing":19,
"vconcat":[
{"spacing":28,"resolve":{"scale":{"size":"independent","y":"independent","x":"independent"}},"vconcat":[
{"spacing":5,"resolve":{"scale":{"size":"independent","y":"independent"}},"hconcat":[
{"title":"S1","width":266,"height":330,"resolve":{"scale":{"size":"independent"}},"encoding":{"x":{"field":"p","type":"ordinal","scale":{"domain":["P5","P4","P3","P2","P1","P1'","P2'","P3'","P4'","P5'"],"paddingInner":0,"paddingOuter":0},"axis":null}},"layer":[
{"data":{"name":"pos"},"mark":{"type":"rect","fill":"#fff","stroke":"#9a9a9a","strokeWidth":0.8,"yOffset":-3,"y2Offset":3},"encoding":{"y":{"datum":0,"type":"quantitative","scale":{"domain":[-91,91],"nice":false},"axis":{"values":[-91,-45.5,45.5,91],"title":["P value = 0.05","% difference"]}},"y2":{"datum":0}}},
{"data":{"name":"pos"},"mark":{"type":"text","fontSize":5.5,"font":"DejaVu Sans","fill":"#333"},"encoding":{"y":{"datum":0,"type":"quantitative","scale":{"domain":[-91,91],"nice":false}},"text":{"field":"p"}}},
{"data":{"name":"logo"},"transform":[{"filter":"datum.s=='S1'&&datum.v>0"},{"stack":"v","groupby":["p"],"sort":[{"field":"v","order":"ascending"}],"as":["y0","y1"]},{"filter":"datum.v>16.6"}],"mark":{"type":"bar","width":{"band":0.7},"opacity":0.35,"yOffset":-3,"y2Offset":-3},"encoding":{"y":{"field":"y0","type":"quantitative","scale":{"domain":[-91,91],"nice":false}},"y2":{"field":"y1"},"color":{"condition":{"test":"datum.z==1","value":"#ffc0cb"},"field":"a","type":"nominal","scale":{"domain":["A","C","D","E","F","G","H","I","K","L","M","N","P","Q","R","S","T","V","W","Y"],"range":["#cc9900","#cccc00","#d40000","#d40000","#00c800","#cc9900","#00c800","#cc9900","#0000d4","#cc9900","#cc9900","#d400d4","#cc9900","#d400d4","#0000d4","#d400d4","#d400d4","#cc9900","#00c800","#00c800"]},"legend":null}}},
{"data":{"name":"logo"},"transform":[{"filter":"datum.s=='S1'&&datum.v>0"},{"stack":"v","groupby":["p"],"sort":[{"field":"v","order":"ascending"}],"as":["y0","y1"]},{"calculate":"(datum.y0+datum.y1)/2","as":"ym"}],"mark":{"type":"text","font":"Liberation Sans","baseline":"middle","yOffset":-3},"encoding":{"y":{"field":"ym","type":"quantitative","scale":{"domain":[-91,91],"nice":false}},"text":{"field":"a"},"size":{"field":"v","type":"quantitative","scale":{"domain":[0,11.85],"range":[0,30],"clamp":true},"legend":null},"color":{"condition":{"test":"datum.z==1","value":"#ffc0cb"},"field":"a","type":"nominal","legend":null}}},
{"data":{"name":"logo"},"transform":[{"filter":"datum.s=='S1'&&datum.v<0"},{"stack":"v","groupby":["p"],"sort":[{"field":"v","order":"descending"}],"as":["y0","y1"]},{"filter":"datum.v<-16.6"}],"mark":{"type":"bar","width":{"band":0.7},"opacity":0.35,"yOffset":3,"y2Offset":3},"encoding":{"y":{"field":"y0","type":"quantitative","scale":{"domain":[-91,91],"nice":false}},"y2":{"field":"y1"},"color":{"condition":{"test":"datum.z==1","value":"#ffc0cb"},"field":"a","type":"nominal","legend":null}}},
{"data":{"name":"logo"},"transform":[{"filter":"datum.s=='S1'&&datum.v<0"},{"stack":"v","groupby":["p"],"sort":[{"field":"v","order":"descending"}],"as":["y0","y1"]},{"calculate":"(datum.y0+datum.y1)/2","as":"ym"}],"mark":{"type":"text","font":"Liberation Sans","baseline":"middle","yOffset":3},"encoding":{"y":{"field":"ym","type":"quantitative","scale":{"domain":[-91,91],"nice":false}},"text":{"field":"a"},"size":{"field":"v","type":"quantitative","scale":{"domain":[0,-11.85],"range":[0,30],"clamp":true},"legend":null},"color":{"condition":{"test":"datum.z==1","value":"#ffc0cb"},"field":"a","type":"nominal","legend":null}}}
]},
{"title":"S2","width":266,"height":330,"resolve":{"scale":{"size":"independent"}},"encoding":{"x":{"field":"p","type":"ordinal","scale":{"domain":["P5","P4","P3","P2","P1","P1'","P2'","P3'","P4'","P5'"],"paddingInner":0,"paddingOuter":0},"axis":null}},"layer":[
{"data":{"name":"pos"},"mark":{"type":"rect","fill":"#fff","stroke":"#9a9a9a","strokeWidth":0.8,"yOffset":-3,"y2Offset":3},"encoding":{"y":{"datum":0,"type":"quantitative","scale":{"domain":[-91,91],"nice":false},"axis":{"values":[-91,-45.5,45.5,91],"title":["P value = 0.05","% difference"]}},"y2":{"datum":0}}},
{"data":{"name":"pos"},"mark":{"type":"text","fontSize":5.5,"font":"DejaVu Sans","fill":"#333"},"encoding":{"y":{"datum":0,"type":"quantitative","scale":{"domain":[-91,91],"nice":false}},"text":{"field":"p"}}},
{"data":{"name":"logo"},"transform":[{"filter":"datum.s=='S2'&&datum.v>0"},{"stack":"v","groupby":["p"],"sort":[{"field":"v","order":"ascending"}],"as":["y0","y1"]},{"filter":"datum.v>16.6"}],"mark":{"type":"bar","width":{"band":0.7},"opacity":0.35,"yOffset":-3,"y2Offset":-3},"encoding":{"y":{"field":"y0","type":"quantitative","scale":{"domain":[-91,91],"nice":false}},"y2":{"field":"y1"},"color":{"condition":{"test":"datum.z==1","value":"#ffc0cb"},"field":"a","type":"nominal","legend":null}}},
{"data":{"name":"logo"},"transform":[{"filter":"datum.s=='S2'&&datum.v>0"},{"stack":"v","groupby":["p"],"sort":[{"field":"v","order":"ascending"}],"as":["y0","y1"]},{"calculate":"(datum.y0+datum.y1)/2","as":"ym"}],"mark":{"type":"text","font":"Liberation Sans","baseline":"middle","yOffset":-3},"encoding":{"y":{"field":"ym","type":"quantitative","scale":{"domain":[-91,91],"nice":false}},"text":{"field":"a"},"size":{"field":"v","type":"quantitative","scale":{"domain":[0,11.85],"range":[0,30],"clamp":true},"legend":null},"color":{"condition":{"test":"datum.z==1","value":"#ffc0cb"},"field":"a","type":"nominal","legend":null}}},
{"data":{"name":"logo"},"transform":[{"filter":"datum.s=='S2'&&datum.v<0"},{"stack":"v","groupby":["p"],"sort":[{"field":"v","order":"descending"}],"as":["y0","y1"]},{"filter":"datum.v<-16.6"}],"mark":{"type":"bar","width":{"band":0.7},"opacity":0.35,"yOffset":3,"y2Offset":3},"encoding":{"y":{"field":"y0","type":"quantitative","scale":{"domain":[-91,91],"nice":false}},"y2":{"field":"y1"},"color":{"condition":{"test":"datum.z==1","value":"#ffc0cb"},"field":"a","type":"nominal","legend":null}}},
{"data":{"name":"logo"},"transform":[{"filter":"datum.s=='S2'&&datum.v<0"},{"stack":"v","groupby":["p"],"sort":[{"field":"v","order":"descending"}],"as":["y0","y1"]},{"calculate":"(datum.y0+datum.y1)/2","as":"ym"}],"mark":{"type":"text","font":"Liberation Sans","baseline":"middle","yOffset":3},"encoding":{"y":{"field":"ym","type":"quantitative","scale":{"domain":[-91,91],"nice":false}},"text":{"field":"a"},"size":{"field":"v","type":"quantitative","scale":{"domain":[0,-11.85],"range":[0,30],"clamp":true},"legend":null},"color":{"condition":{"test":"datum.z==1","value":"#ffc0cb"},"field":"a","type":"nominal","legend":null}}}
]},
{"title":"S3","width":266,"height":330,"resolve":{"scale":{"size":"independent"}},"encoding":{"x":{"field":"p","type":"ordinal","scale":{"domain":["P5","P4","P3","P2","P1","P1'","P2'","P3'","P4'","P5'"],"paddingInner":0,"paddingOuter":0},"axis":null}},"layer":[
{"data":{"name":"pos"},"mark":{"type":"rect","fill":"#fff","stroke":"#9a9a9a","strokeWidth":0.8,"yOffset":-3,"y2Offset":3},"encoding":{"y":{"datum":0,"type":"quantitative","scale":{"domain":[-48,48],"nice":false},"axis":{"values":[-48,-24,24,48],"title":["P value = 0.05","% difference"]}},"y2":{"datum":0}}},
{"data":{"name":"pos"},"mark":{"type":"text","fontSize":5.5,"font":"DejaVu Sans","fill":"#333"},"encoding":{"y":{"datum":0,"type":"quantitative","scale":{"domain":[-48,48],"nice":false}},"text":{"field":"p"}}},
{"data":{"name":"logo"},"transform":[{"filter":"datum.s=='S3'&&datum.v>0"},{"stack":"v","groupby":["p"],"sort":[{"field":"v","order":"ascending"}],"as":["y0","y1"]},{"filter":"datum.v>8.75"}],"mark":{"type":"bar","width":{"band":0.7},"opacity":0.35,"yOffset":-3,"y2Offset":-3},"encoding":{"y":{"field":"y0","type":"quantitative","scale":{"domain":[-48,48],"nice":false}},"y2":{"field":"y1"},"color":{"condition":{"test":"datum.z==1","value":"#ffc0cb"},"field":"a","type":"nominal","legend":null}}},
{"data":{"name":"logo"},"transform":[{"filter":"datum.s=='S3'&&datum.v>0"},{"stack":"v","groupby":["p"],"sort":[{"field":"v","order":"ascending"}],"as":["y0","y1"]},{"calculate":"(datum.y0+datum.y1)/2","as":"ym"}],"mark":{"type":"text","font":"Liberation Sans","baseline":"middle","yOffset":-3},"encoding":{"y":{"field":"ym","type":"quantitative","scale":{"domain":[-48,48],"nice":false}},"text":{"field":"a"},"size":{"field":"v","type":"quantitative","scale":{"domain":[0,6.25],"range":[0,30],"clamp":true},"legend":null},"color":{"condition":{"test":"datum.z==1","value":"#ffc0cb"},"field":"a","type":"nominal","legend":null}}},
{"data":{"name":"logo"},"transform":[{"filter":"datum.s=='S3'&&datum.v<0"},{"stack":"v","groupby":["p"],"sort":[{"field":"v","order":"descending"}],"as":["y0","y1"]},{"filter":"datum.v<-8.75"}],"mark":{"type":"bar","width":{"band":0.7},"opacity":0.35,"yOffset":3,"y2Offset":3},"encoding":{"y":{"field":"y0","type":"quantitative","scale":{"domain":[-48,48],"nice":false}},"y2":{"field":"y1"},"color":{"condition":{"test":"datum.z==1","value":"#ffc0cb"},"field":"a","type":"nominal","legend":null}}},
{"data":{"name":"logo"},"transform":[{"filter":"datum.s=='S3'&&datum.v<0"},{"stack":"v","groupby":["p"],"sort":[{"field":"v","order":"descending"}],"as":["y0","y1"]},{"calculate":"(datum.y0+datum.y1)/2","as":"ym"}],"mark":{"type":"text","font":"Liberation Sans","baseline":"middle","yOffset":3},"encoding":{"y":{"field":"ym","type":"quantitative","scale":{"domain":[-48,48],"nice":false}},"text":{"field":"a"},"size":{"field":"v","type":"quantitative","scale":{"domain":[0,-6.25],"range":[0,30],"clamp":true},"legend":null},"color":{"condition":{"test":"datum.z==1","value":"#ffc0cb"},"field":"a","type":"nominal","legend":null}}}
]},
{"title":"S4","width":266,"height":330,"resolve":{"scale":{"size":"independent"}},"encoding":{"x":{"field":"p","type":"ordinal","scale":{"domain":["P5","P4","P3","P2","P1","P1'","P2'","P3'","P4'","P5'"],"paddingInner":0,"paddingOuter":0},"axis":null}},"layer":[
{"data":{"name":"pos"},"mark":{"type":"rect","fill":"#fff","stroke":"#9a9a9a","strokeWidth":0.8,"yOffset":-3,"y2Offset":3},"encoding":{"y":{"datum":0,"type":"quantitative","scale":{"domain":[-99,99],"nice":false},"axis":{"values":[-99,-49.5,49.5,99],"title":["P value = 0.05","% difference"]}},"y2":{"datum":0}}},
{"data":{"name":"pos"},"mark":{"type":"text","fontSize":5.5,"font":"DejaVu Sans","fill":"#333"},"encoding":{"y":{"datum":0,"type":"quantitative","scale":{"domain":[-99,99],"nice":false}},"text":{"field":"p"}}},
{"data":{"name":"logo"},"transform":[{"filter":"datum.s=='S4'&&datum.v>0"},{"stack":"v","groupby":["p"],"sort":[{"field":"v","order":"ascending"}],"as":["y0","y1"]},{"filter":"datum.v>18"}],"mark":{"type":"bar","width":{"band":0.7},"opacity":0.35,"yOffset":-3,"y2Offset":-3},"encoding":{"y":{"field":"y0","type":"quantitative","scale":{"domain":[-99,99],"nice":false}},"y2":{"field":"y1"},"color":{"condition":{"test":"datum.z==1","value":"#ffc0cb"},"field":"a","type":"nominal","legend":null}}},
{"data":{"name":"logo"},"transform":[{"filter":"datum.s=='S4'&&datum.v>0"},{"stack":"v","groupby":["p"],"sort":[{"field":"v","order":"ascending"}],"as":["y0","y1"]},{"calculate":"(datum.y0+datum.y1)/2","as":"ym"}],"mark":{"type":"text","font":"Liberation Sans","baseline":"middle","yOffset":-3},"encoding":{"y":{"field":"ym","type":"quantitative","scale":{"domain":[-99,99],"nice":false}},"text":{"field":"a"},"size":{"field":"v","type":"quantitative","scale":{"domain":[0,12.89],"range":[0,30],"clamp":true},"legend":null},"color":{"condition":{"test":"datum.z==1","value":"#ffc0cb"},"field":"a","type":"nominal","legend":null}}},
{"data":{"name":"logo"},"transform":[{"filter":"datum.s=='S4'&&datum.v<0"},{"stack":"v","groupby":["p"],"sort":[{"field":"v","order":"descending"}],"as":["y0","y1"]},{"filter":"datum.v<-18"}],"mark":{"type":"bar","width":{"band":0.7},"opacity":0.35,"yOffset":3,"y2Offset":3},"encoding":{"y":{"field":"y0","type":"quantitative","scale":{"domain":[-99,99],"nice":false}},"y2":{"field":"y1"},"color":{"condition":{"test":"datum.z==1","value":"#ffc0cb"},"field":"a","type":"nominal","legend":null}}},
{"data":{"name":"logo"},"transform":[{"filter":"datum.s=='S4'&&datum.v<0"},{"stack":"v","groupby":["p"],"sort":[{"field":"v","order":"descending"}],"as":["y0","y1"]},{"calculate":"(datum.y0+datum.y1)/2","as":"ym"}],"mark":{"type":"text","font":"Liberation Sans","baseline":"middle","yOffset":3},"encoding":{"y":{"field":"ym","type":"quantitative","scale":{"domain":[-99,99],"nice":false}},"text":{"field":"a"},"size":{"field":"v","type":"quantitative","scale":{"domain":[0,-12.89],"range":[0,30],"clamp":true},"legend":null},"color":{"condition":{"test":"datum.z==1","value":"#ffc0cb"},"field":"a","type":"nominal","legend":null}}}
]}
]},
{"spacing":5,"resolve":{"scale":{"size":"independent","y":"independent"}},"hconcat":[
{"title":"S5","width":266,"height":330,"resolve":{"scale":{"size":"independent"}},"encoding":{"x":{"field":"p","type":"ordinal","scale":{"domain":["P5","P4","P3","P2","P1","P1'","P2'","P3'","P4'","P5'"],"paddingInner":0,"paddingOuter":0},"axis":null}},"layer":[
{"data":{"name":"pos"},"mark":{"type":"rect","fill":"#fff","stroke":"#9a9a9a","strokeWidth":0.8,"yOffset":-3,"y2Offset":3},"encoding":{"y":{"datum":0,"type":"quantitative","scale":{"domain":[-57,57],"nice":false},"axis":{"values":[-57,-28.5,28.5,57],"title":["P value = 0.05","% difference"]}},"y2":{"datum":0}}},
{"data":{"name":"pos"},"mark":{"type":"text","fontSize":5.5,"font":"DejaVu Sans","fill":"#333"},"encoding":{"y":{"datum":0,"type":"quantitative","scale":{"domain":[-57,57],"nice":false}},"text":{"field":"p"}}},
{"data":{"name":"logo"},"transform":[{"filter":"datum.s=='S5'&&datum.v>0"},{"stack":"v","groupby":["p"],"sort":[{"field":"v","order":"ascending"}],"as":["y0","y1"]},{"filter":"datum.v>10.4"}],"mark":{"type":"bar","width":{"band":0.7},"opacity":0.35,"yOffset":-3,"y2Offset":-3},"encoding":{"y":{"field":"y0","type":"quantitative","scale":{"domain":[-57,57],"nice":false}},"y2":{"field":"y1"},"color":{"condition":{"test":"datum.z==1","value":"#ffc0cb"},"field":"a","type":"nominal","legend":null}}},
{"data":{"name":"logo"},"transform":[{"filter":"datum.s=='S5'&&datum.v>0"},{"stack":"v","groupby":["p"],"sort":[{"field":"v","order":"ascending"}],"as":["y0","y1"]},{"calculate":"(datum.y0+datum.y1)/2","as":"ym"}],"mark":{"type":"text","font":"Liberation Sans","baseline":"middle","yOffset":-3},"encoding":{"y":{"field":"ym","type":"quantitative","scale":{"domain":[-57,57],"nice":false}},"text":{"field":"a"},"size":{"field":"v","type":"quantitative","scale":{"domain":[0,7.42],"range":[0,30],"clamp":true},"legend":null},"color":{"condition":{"test":"datum.z==1","value":"#ffc0cb"},"field":"a","type":"nominal","legend":null}}},
{"data":{"name":"logo"},"transform":[{"filter":"datum.s=='S5'&&datum.v<0"},{"stack":"v","groupby":["p"],"sort":[{"field":"v","order":"descending"}],"as":["y0","y1"]},{"filter":"datum.v<-10.4"}],"mark":{"type":"bar","width":{"band":0.7},"opacity":0.35,"yOffset":3,"y2Offset":3},"encoding":{"y":{"field":"y0","type":"quantitative","scale":{"domain":[-57,57],"nice":false}},"y2":{"field":"y1"},"color":{"condition":{"test":"datum.z==1","value":"#ffc0cb"},"field":"a","type":"nominal","legend":null}}},
{"data":{"name":"logo"},"transform":[{"filter":"datum.s=='S5'&&datum.v<0"},{"stack":"v","groupby":["p"],"sort":[{"field":"v","order":"descending"}],"as":["y0","y1"]},{"calculate":"(datum.y0+datum.y1)/2","as":"ym"}],"mark":{"type":"text","font":"Liberation Sans","baseline":"middle","yOffset":3},"encoding":{"y":{"field":"ym","type":"quantitative","scale":{"domain":[-57,57],"nice":false}},"text":{"field":"a"},"size":{"field":"v","type":"quantitative","scale":{"domain":[0,-7.42],"range":[0,30],"clamp":true},"legend":null},"color":{"condition":{"test":"datum.z==1","value":"#ffc0cb"},"field":"a","type":"nominal","legend":null}}}
]},
{"title":"S6","width":266,"height":330,"resolve":{"scale":{"size":"independent"}},"encoding":{"x":{"field":"p","type":"ordinal","scale":{"domain":["P5","P4","P3","P2","P1","P1'","P2'","P3'","P4'","P5'"],"paddingInner":0,"paddingOuter":0},"axis":null}},"layer":[
{"data":{"name":"pos"},"mark":{"type":"rect","fill":"#fff","stroke":"#9a9a9a","strokeWidth":0.8,"yOffset":-3,"y2Offset":3},"encoding":{"y":{"datum":0,"type":"quantitative","scale":{"domain":[-86,86],"nice":false},"axis":{"values":[-86,-43,43,86],"title":["P value = 0.05","% difference"]}},"y2":{"datum":0}}},
{"data":{"name":"pos"},"mark":{"type":"text","fontSize":5.5,"font":"DejaVu Sans","fill":"#333"},"encoding":{"y":{"datum":0,"type":"quantitative","scale":{"domain":[-86,86],"nice":false}},"text":{"field":"p"}}},
{"data":{"name":"logo"},"transform":[{"filter":"datum.s=='S6'&&datum.v>0"},{"stack":"v","groupby":["p"],"sort":[{"field":"v","order":"ascending"}],"as":["y0","y1"]},{"filter":"datum.v>15.7"}],"mark":{"type":"bar","width":{"band":0.7},"opacity":0.35,"yOffset":-3,"y2Offset":-3},"encoding":{"y":{"field":"y0","type":"quantitative","scale":{"domain":[-86,86],"nice":false}},"y2":{"field":"y1"},"color":{"condition":{"test":"datum.z==1","value":"#ffc0cb"},"field":"a","type":"nominal","legend":null}}},
{"data":{"name":"logo"},"transform":[{"filter":"datum.s=='S6'&&datum.v>0"},{"stack":"v","groupby":["p"],"sort":[{"field":"v","order":"ascending"}],"as":["y0","y1"]},{"calculate":"(datum.y0+datum.y1)/2","as":"ym"}],"mark":{"type":"text","font":"Liberation Sans","baseline":"middle","yOffset":-3},"encoding":{"y":{"field":"ym","type":"quantitative","scale":{"domain":[-86,86],"nice":false}},"text":{"field":"a"},"size":{"field":"v","type":"quantitative","scale":{"domain":[0,11.2],"range":[0,30],"clamp":true},"legend":null},"color":{"condition":{"test":"datum.z==1","value":"#ffc0cb"},"field":"a","type":"nominal","legend":null}}},
{"data":{"name":"logo"},"transform":[{"filter":"datum.s=='S6'&&datum.v<0"},{"stack":"v","groupby":["p"],"sort":[{"field":"v","order":"descending"}],"as":["y0","y1"]},{"filter":"datum.v<-15.7"}],"mark":{"type":"bar","width":{"band":0.7},"opacity":0.35,"yOffset":3,"y2Offset":3},"encoding":{"y":{"field":"y0","type":"quantitative","scale":{"domain":[-86,86],"nice":false}},"y2":{"field":"y1"},"color":{"condition":{"test":"datum.z==1","value":"#ffc0cb"},"field":"a","type":"nominal","legend":null}}},
{"data":{"name":"logo"},"transform":[{"filter":"datum.s=='S6'&&datum.v<0"},{"stack":"v","groupby":["p"],"sort":[{"field":"v","order":"descending"}],"as":["y0","y1"]},{"calculate":"(datum.y0+datum.y1)/2","as":"ym"}],"mark":{"type":"text","font":"Liberation Sans","baseline":"middle","yOffset":3},"encoding":{"y":{"field":"ym","type":"quantitative","scale":{"domain":[-86,86],"nice":false}},"text":{"field":"a"},"size":{"field":"v","type":"quantitative","scale":{"domain":[0,-11.2],"range":[0,30],"clamp":true},"legend":null},"color":{"condition":{"test":"datum.z==1","value":"#ffc0cb"},"field":"a","type":"nominal","legend":null}}}
]},
{"title":"S7","width":266,"height":330,"resolve":{"scale":{"size":"independent"}},"encoding":{"x":{"field":"p","type":"ordinal","scale":{"domain":["P5","P4","P3","P2","P1","P1'","P2'","P3'","P4'","P5'"],"paddingInner":0,"paddingOuter":0},"axis":null}},"layer":[
{"data":{"name":"pos"},"mark":{"type":"rect","fill":"#fff","stroke":"#9a9a9a","strokeWidth":0.8,"yOffset":-3,"y2Offset":3},"encoding":{"y":{"datum":0,"type":"quantitative","scale":{"domain":[-91,91],"nice":false},"axis":{"values":[-91,-45.5,45.5,91],"title":["P value = 0.05","% difference"]}},"y2":{"datum":0}}},
{"data":{"name":"pos"},"mark":{"type":"text","fontSize":5.5,"font":"DejaVu Sans","fill":"#333"},"encoding":{"y":{"datum":0,"type":"quantitative","scale":{"domain":[-91,91],"nice":false}},"text":{"field":"p"}}},
{"data":{"name":"logo"},"transform":[{"filter":"datum.s=='S7'&&datum.v>0"},{"stack":"v","groupby":["p"],"sort":[{"field":"v","order":"ascending"}],"as":["y0","y1"]},{"filter":"datum.v>16.6"}],"mark":{"type":"bar","width":{"band":0.7},"opacity":0.35,"yOffset":-3,"y2Offset":-3},"encoding":{"y":{"field":"y0","type":"quantitative","scale":{"domain":[-91,91],"nice":false}},"y2":{"field":"y1"},"color":{"condition":{"test":"datum.z==1","value":"#ffc0cb"},"field":"a","type":"nominal","legend":null}}},
{"data":{"name":"logo"},"transform":[{"filter":"datum.s=='S7'&&datum.v>0"},{"stack":"v","groupby":["p"],"sort":[{"field":"v","order":"ascending"}],"as":["y0","y1"]},{"calculate":"(datum.y0+datum.y1)/2","as":"ym"}],"mark":{"type":"text","font":"Liberation Sans","baseline":"middle","yOffset":-3},"encoding":{"y":{"field":"ym","type":"quantitative","scale":{"domain":[-91,91],"nice":false}},"text":{"field":"a"},"size":{"field":"v","type":"quantitative","scale":{"domain":[0,11.85],"range":[0,30],"clamp":true},"legend":null},"color":{"condition":{"test":"datum.z==1","value":"#ffc0cb"},"field":"a","type":"nominal","legend":null}}},
{"data":{"name":"logo"},"transform":[{"filter":"datum.s=='S7'&&datum.v<0"},{"stack":"v","groupby":["p"],"sort":[{"field":"v","order":"descending"}],"as":["y0","y1"]},{"filter":"datum.v<-16.6"}],"mark":{"type":"bar","width":{"band":0.7},"opacity":0.35,"yOffset":3,"y2Offset":3},"encoding":{"y":{"field":"y0","type":"quantitative","scale":{"domain":[-91,91],"nice":false}},"y2":{"field":"y1"},"color":{"condition":{"test":"datum.z==1","value":"#ffc0cb"},"field":"a","type":"nominal","legend":null}}},
{"data":{"name":"logo"},"transform":[{"filter":"datum.s=='S7'&&datum.v<0"},{"stack":"v","groupby":["p"],"sort":[{"field":"v","order":"descending"}],"as":["y0","y1"]},{"calculate":"(datum.y0+datum.y1)/2","as":"ym"}],"mark":{"type":"text","font":"Liberation Sans","baseline":"middle","yOffset":3},"encoding":{"y":{"field":"ym","type":"quantitative","scale":{"domain":[-91,91],"nice":false}},"text":{"field":"a"},"size":{"field":"v","type":"quantitative","scale":{"domain":[0,-11.85],"range":[0,30],"clamp":true},"legend":null},"color":{"condition":{"test":"datum.z==1","value":"#ffc0cb"},"field":"a","type":"nominal","legend":null}}}
]},
{"title":"S8","width":266,"height":330,"resolve":{"scale":{"size":"independent"}},"encoding":{"x":{"field":"p","type":"ordinal","scale":{"domain":["P5","P4","P3","P2","P1","P1'","P2'","P3'","P4'","P5'"],"paddingInner":0,"paddingOuter":0},"axis":null}},"layer":[
{"data":{"name":"pos"},"mark":{"type":"rect","fill":"#fff","stroke":"#9a9a9a","strokeWidth":0.8,"yOffset":-3,"y2Offset":3},"encoding":{"y":{"datum":0,"type":"quantitative","scale":{"domain":[-99,99],"nice":false},"axis":{"values":[-99,-49.5,49.5,99],"title":["P value = 0.05","% difference"]}},"y2":{"datum":0}}},
{"data":{"name":"pos"},"mark":{"type":"text","fontSize":5.5,"font":"DejaVu Sans","fill":"#333"},"encoding":{"y":{"datum":0,"type":"quantitative","scale":{"domain":[-99,99],"nice":false}},"text":{"field":"p"}}},
{"data":{"name":"logo"},"transform":[{"filter":"datum.s=='S8'&&datum.v>0"},{"stack":"v","groupby":["p"],"sort":[{"field":"v","order":"ascending"}],"as":["y0","y1"]},{"filter":"datum.v>18"}],"mark":{"type":"bar","width":{"band":0.7},"opacity":0.35,"yOffset":-3,"y2Offset":-3},"encoding":{"y":{"field":"y0","type":"quantitative","scale":{"domain":[-99,99],"nice":false}},"y2":{"field":"y1"},"color":{"condition":{"test":"datum.z==1","value":"#ffc0cb"},"field":"a","type":"nominal","legend":null}}},
{"data":{"name":"logo"},"transform":[{"filter":"datum.s=='S8'&&datum.v>0"},{"stack":"v","groupby":["p"],"sort":[{"field":"v","order":"ascending"}],"as":["y0","y1"]},{"calculate":"(datum.y0+datum.y1)/2","as":"ym"}],"mark":{"type":"text","font":"Liberation Sans","baseline":"middle","yOffset":-3},"encoding":{"y":{"field":"ym","type":"quantitative","scale":{"domain":[-99,99],"nice":false}},"text":{"field":"a"},"size":{"field":"v","type":"quantitative","scale":{"domain":[0,12.89],"range":[0,30],"clamp":true},"legend":null},"color":{"condition":{"test":"datum.z==1","value":"#ffc0cb"},"field":"a","type":"nominal","legend":null}}},
{"data":{"name":"logo"},"transform":[{"filter":"datum.s=='S8'&&datum.v<0"},{"stack":"v","groupby":["p"],"sort":[{"field":"v","order":"descending"}],"as":["y0","y1"]},{"filter":"datum.v<-18"}],"mark":{"type":"bar","width":{"band":0.7},"opacity":0.35,"yOffset":3,"y2Offset":3},"encoding":{"y":{"field":"y0","type":"quantitative","scale":{"domain":[-99,99],"nice":false}},"y2":{"field":"y1"},"color":{"condition":{"test":"datum.z==1","value":"#ffc0cb"},"field":"a","type":"nominal","legend":null}}},
{"data":{"name":"logo"},"transform":[{"filter":"datum.s=='S8'&&datum.v<0"},{"stack":"v","groupby":["p"],"sort":[{"field":"v","order":"descending"}],"as":["y0","y1"]},{"calculate":"(datum.y0+datum.y1)/2","as":"ym"}],"mark":{"type":"text","font":"Liberation Sans","baseline":"middle","yOffset":3},"encoding":{"y":{"field":"ym","type":"quantitative","scale":{"domain":[-99,99],"nice":false}},"text":{"field":"a"},"size":{"field":"v","type":"quantitative","scale":{"domain":[0,-12.89],"range":[0,30],"clamp":true},"legend":null},"color":{"condition":{"test":"datum.z==1","value":"#ffc0cb"},"field":"a","type":"nominal","legend":null}}}
]}
]}
]},
{"width":256,"height":66,"data":{"name":"aa"},"transform":[{"window":[{"op":"row_number","as":"c"}],"groupby":["r"],"sort":[{"field":"a","order":"ascending"}]}],
"encoding":{"x":{"field":"c","type":"ordinal","axis":null,"scale":{"padding":0}},"y":{"field":"r","type":"ordinal","axis":null}},
"layer":[
{"mark":{"type":"square","size":289,"filled":true,"opacity":1,"yOffset":-13.5,"xOffset":5},"encoding":{"color":{"field":"a","type":"nominal","legend":null}}},
{"mark":{"type":"text","font":"DejaVu Sans Mono","fontSize":12,"fill":"#555","yOffset":-31.5,"xOffset":5},"encoding":{"text":{"field":"a"}}}
]}
]
}
